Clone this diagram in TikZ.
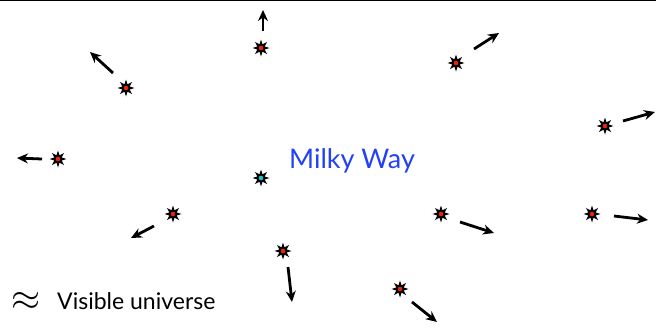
\documentclass[tikz,border=0pt]{standalone}
\usepackage{fontspec}
\setmainfont{Lato}
\usetikzlibrary{arrows.meta, shapes.geometric}
\definecolor{wayblue}{RGB}{35,65,245}
\definecolor{galred}{RGB}{235,35,10}
\definecolor{galcyan}{RGB}{20,200,200}
\begin{document}
\begin{tikzpicture}[x=1pt, y=-1pt,
    galaxy/.style={star, star points=8, star point ratio=2.1, minimum size=17pt, inner sep=0pt, fill=black},
    motion/.style={draw, line width=2.8pt, -{Stealth[length=11pt, width=10pt]}},
    label_text/.style={inner sep=0pt, font=\fontsize{23}{26}\selectfont}
  ]
  \useasboundingbox (0,0) rectangle (656,335);
  \draw[line width=1.2pt] (0,0.6) -- (656,0.6);

  % our own galaxy
  \node[galaxy] (G_mw) at (261,178) {};
  \fill[galcyan] (G_mw.center) circle (2.3pt);
  \node[text=wayblue, inner sep=0pt, font=\fontsize{27}{30}\selectfont] (L_mw) at (352,161) {Milky Way};

  % other galaxies, each moving away
  \foreach \n/\gx/\gy/\ax/\ay/\bx/\by in {
      1/261/48/263/31/263/10,
      2/126/88/113/73/90/52,
      3/456/63/474/49/499/33,
      4/605/126/623/121/655/112,
      5/58/159/42/159/17/158,
      6/173/214/154/226/131/238,
      7/441/214/460/222/494/233,
      8/592/214/614/216/648/220,
      9/283/251/288/267/292/302,
      10/400/289/412/302/437/322}{
    \node[galaxy] (G\n) at (\gx,\gy) {};
    \fill[galred] (G\n.center) circle (2.3pt);
    \coordinate (A\n) at (\ax,\ay);
    \coordinate (B\n) at (\bx,\by);
    \path[motion] (A\n) -- (B\n);
  }

  % caption
  \node[label_text] (N_approx) at (26,301) {\scalebox{1.5}{$\approx$}};
  \node[label_text, anchor=base west] (N_visible) at (57,309) {Visible universe};
\end{tikzpicture}
\end{document}
